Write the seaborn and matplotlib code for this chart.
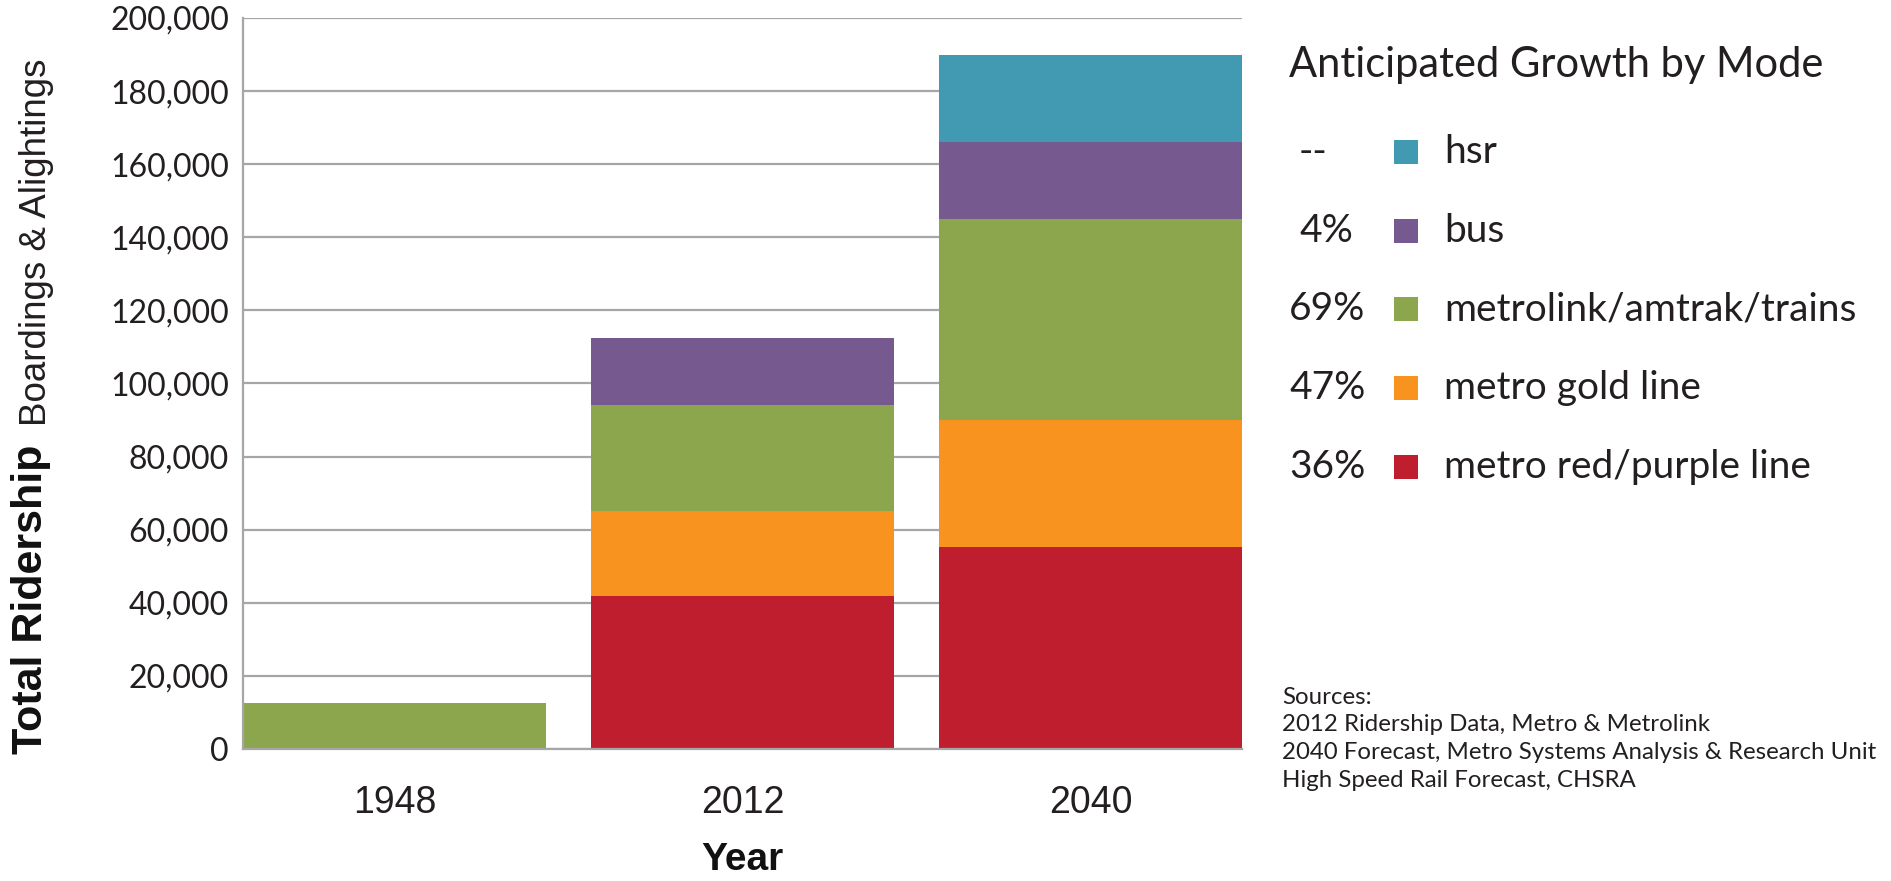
import numpy as np
import matplotlib.pyplot as plt
import seaborn as sns
from matplotlib.patches import Rectangle

# Data
years = ['1948', '2012', '2040']
red_purple = [0, 42000, 55300]
gold_line = [0, 23000, 34700]
trains = [12700, 29000, 55000]
bus = [0, 18500, 21000]
hsr = [0, 0, 24000]

mode_names = ['metro red/purple line', 'metro gold line', 'metrolink/amtrak/trains', 'bus', 'hsr']
growth = ['36%', '47%', '69%', '4%', '--']
colors = ['#BE1E2D', '#F7931E', '#8CA64D', '#765A8F', '#419AB2']
sources = ['Sources:',
           '2012 Ridership Data, Metro & Metrolink',
           '2040 Forecast, Metro Systems Analysis & Research Unit',
           'High Speed Rail Forecast, CHSRA']

sns.set_style('white')
plt.rcParams['font.family'] = ['Lato', 'DejaVu Sans']
narrow = ['Liberation Sans', 'DejaVu Sans']

fig = plt.figure(figsize=(18.91, 8.81), dpi=100)
ax = fig.add_axes([0.1285, 0.1498, 0.5283, 0.8298])

# Stacked bars, bottom layer first
layers = [red_purple, gold_line, trains, bus, hsr]
bottom = np.zeros(len(years))
for vals, col in zip(layers, colors):
    sns.barplot(x=years, y=vals, bottom=bottom, color=col, saturation=1,
                width=0.87, linewidth=0, ax=ax)
    bottom = bottom + np.array(vals)

ax.set_xlim(-0.435, 2.435)
ax.set_ylim(0, 200000)
ax.set_yticks(np.arange(0, 200001, 20000))
ax.set_yticklabels([f'{v:,}' for v in range(0, 200001, 20000)])
ax.yaxis.grid(True, color='#a6a6a6', linewidth=1.6)
ax.set_axisbelow(True)

for s in ['top', 'right']:
    ax.spines[s].set_visible(False)
for s in ['left', 'bottom']:
    ax.spines[s].set_color('#a6a6a6')
    ax.spines[s].set_linewidth(1.6)

ax.set_xticks([-0.435, 2.435], minor=True)
ax.tick_params(axis='x', which='minor', length=9, width=1.4, color='#a6a6a6', direction='out')
ax.tick_params(axis='x', which='major', length=7, width=1.4, color='#a6a6a6', direction='out',
               pad=19, labelsize=27, labelcolor='#231f20')
ax.tick_params(axis='y', length=7, width=1.4, color='#a6a6a6', direction='out',
               pad=3, labelsize=23, labelcolor='#231f20')
for lab in ax.get_xticklabels():
    lab.set_family(narrow)
ax.set_xlabel('Year', fontsize=28, fontweight='bold', family=narrow, labelpad=15, color='#111111')
ax.set_ylabel('')

# Y axis label in two parts
fig.text(0.027, 0.144, 'Total Ridership', rotation=90, ha='right', va='bottom',
         fontsize=31, fontweight='bold', family=narrow, color='#111111')
fig.text(0.0285, 0.517, 'Boardings & Alightings', rotation=90, ha='right', va='bottom',
         fontsize=26.5, family=narrow, color='#231f20')

# Legend
W, H = 1891, 881
fig.text(1289 / W, 1 - 65 / H, 'Anticipated Growth by Mode', ha='left', va='center',
         fontsize=30, color='#231f20')
for i in range(len(mode_names)):
    k = len(mode_names) - 1 - i
    yc = 1 - (152 + 78.7 * i) / H
    xg = 1299 if len(growth[k]) <= 2 else 1289
    fig.text(xg / W, yc, growth[k], ha='left', va='center', fontsize=28, color='#231f20')
    fig.add_artist(Rectangle((1394 / W, yc - 12 / H), 24 / W, 24 / H,
                             transform=fig.transFigure, color=colors[k], linewidth=0))
    fig.text(1444 / W, yc, mode_names[k], ha='left', va='center', fontsize=28, color='#231f20')

for i, line in enumerate(sources):
    fig.text(1282 / W, 1 - (697 + 27.7 * i) / H, line, ha='left', va='center',
             fontsize=17.3, color='#231f20')

fig.savefig('out.png', dpi=100)
